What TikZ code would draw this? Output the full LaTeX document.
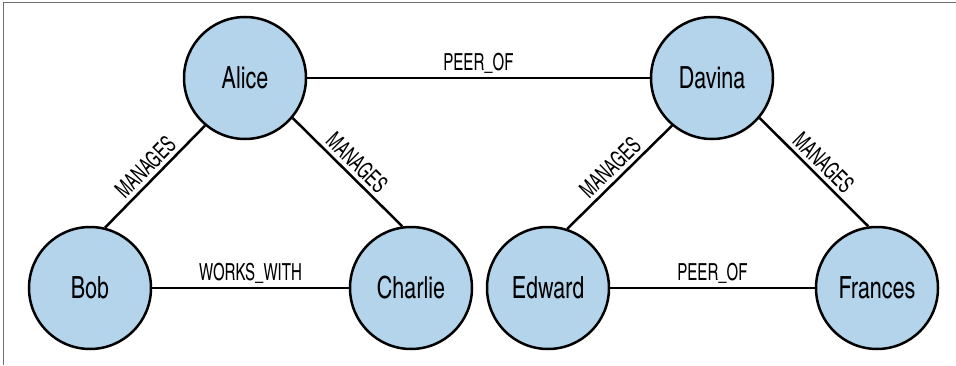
\documentclass[tikz,border=0pt]{standalone}
\usepackage{fontspec}
\setmainfont{texgyreheroscn-regular.otf}
\newfontfamily\namefont{texgyreheroscn-regular.otf}[FakeStretch=0.86]
\newfontfamily\labelfont{texgyreheroscn-regular.otf}[FakeStretch=0.78]
\definecolor{nodeblue}{RGB}{179,212,234}
\definecolor{framegray}{RGB}{110,110,110}
\begin{document}
\begin{tikzpicture}[x=1pt,y=1pt,
  person/.style={circle,draw=black,line width=2.5pt,fill=nodeblue,minimum size=122pt,inner sep=0pt,font=\namefont\fontsize{30.5}{31}\selectfont},
  rel/.style={line width=2.5pt,draw=black},
  rellabel/.style={font=\labelfont\fontsize{23.5}{24}\selectfont,inner sep=3.5pt}]
\useasboundingbox (0,0) rectangle (956,365);
\draw[framegray,line width=1pt] (3,0) -- (3,362) -- (956,362);
\node[person] (alice) at (245,287) {Alice};
\node[person] (bob) at (90,77) {Bob};
\node[person] (charlie) at (411,77) {Charlie};
\node[person] (davina) at (712,287) {Davina};
\node[person] (edward) at (548,77) {Edward};
\node[person] (frances) at (877,77) {Frances};
\draw[rel] (alice) -- node[rellabel,above] {PEER\_OF} (davina);
\draw[rel] (bob.76) -- node[rellabel,sloped,above] {MANAGES} (alice.230);
\draw[rel] (alice.-40) -- node[rellabel,sloped,above] {MANAGES} (charlie.98);
\draw[rel] (bob) -- node[rellabel,above] {WORKS\_WITH} (charlie);
\draw[rel] (edward.72) -- node[rellabel,sloped,above] {MANAGES} (davina.230);
\draw[rel] (davina.-40) -- node[rellabel,sloped,above] {MANAGES} (frances.98);
\draw[rel] (edward) -- node[rellabel,above] {PEER\_OF} (frances);
\end{tikzpicture}
\end{document}
